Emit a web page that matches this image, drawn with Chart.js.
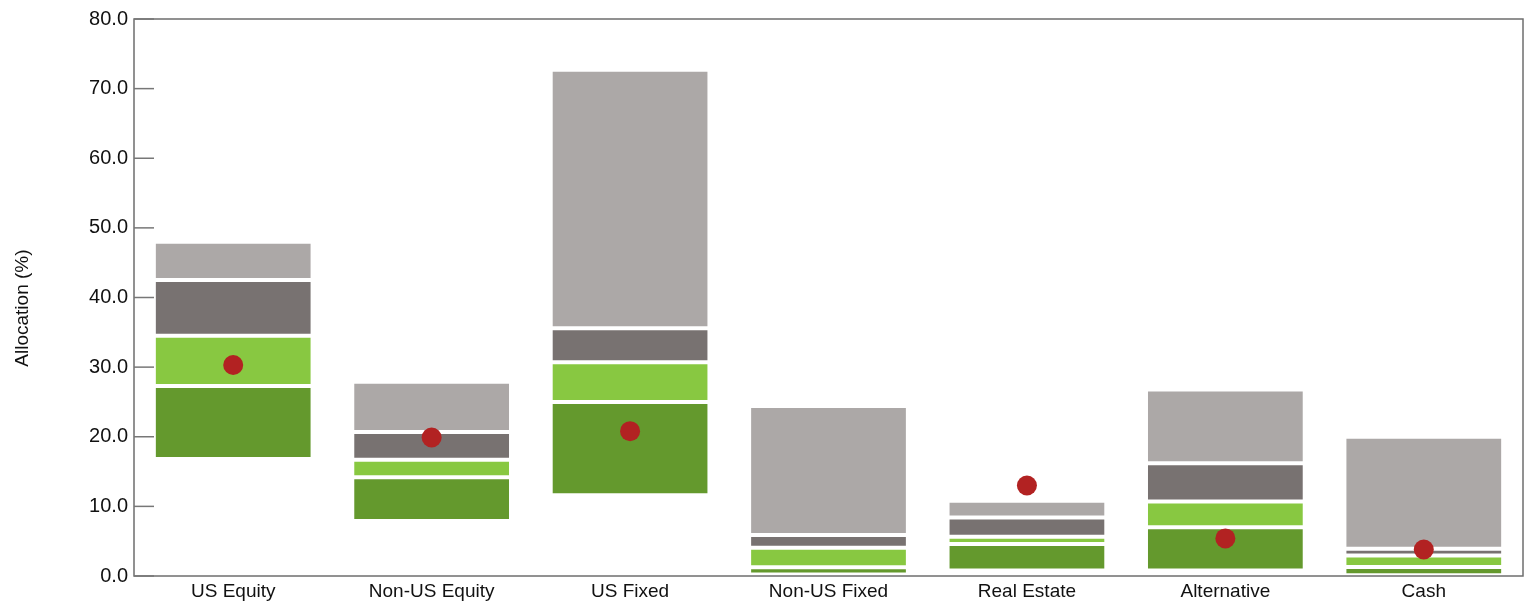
<!DOCTYPE html>
<html>
<head>
<meta charset="utf-8">
<script src="https://cdn.jsdelivr.net/npm/chart.js@4.4.1/dist/chart.umd.min.js"></script>
<style>
  html, body { margin: 0; padding: 0; background: #ffffff; overflow: hidden; }
  canvas { display: block; }
</style>
</head>
<body>
<canvas id="c" width="1528" height="605" style="width:1528px;height:605px"></canvas>
<script>
const categories = ['US Equity', 'Non-US Equity', 'US Fixed', 'Non-US Fixed', 'Real Estate', 'Alternative', 'Cash'];
const pct5   = [16.8, 7.9, 11.6, 0.2, 0.8, 0.8, 0.1];
const pct25  = [27.3, 14.2, 25.0, 1.25, 4.6, 7.0, 1.3];
const pct50  = [34.5, 16.7, 30.7, 4.05, 5.65, 10.7, 2.95];
const pct75  = [42.5, 20.7, 35.6, 5.9, 8.4, 16.2, 3.9];
const pct95  = [48.0, 27.9, 72.7, 24.4, 10.8, 26.8, 20.0];
const portfolio = [30.3, 19.9, 20.8, null, 13.0, 5.4, 3.8];
const yTicks = [0, 10, 20, 30, 40, 50, 60, 70, 80];

const FONT = "'Liberation Sans', Arial, sans-serif";

function range(lo, hi) { return lo.map((v, i) => [v, hi[i]]); }

const barCommon = {
  type: 'bar',
  grouped: false,
  borderColor: '#ffffff',
  borderWidth: 2,
  borderSkipped: false,
  categoryPercentage: 1.0,
  barPercentage: 0.8,
  order: 2
};

const framePlugin = {
  id: 'frame',
  afterDraw(chart) {
    const { ctx, chartArea: a, scales } = chart;
    ctx.save();
    ctx.strokeStyle = '#6e6e6e';
    ctx.lineWidth = 1.5;
    ctx.strokeRect(a.left, a.top, a.right - a.left, a.bottom - a.top);
    const y = scales.y;
    ctx.strokeStyle = '#777777';
    ctx.lineWidth = 1.5;
    y.ticks.forEach(t => {
      const py = y.getPixelForValue(t.value);
      ctx.beginPath();
      ctx.moveTo(a.left, py);
      ctx.lineTo(a.left + 20, py);
      ctx.stroke();
    });
    ctx.restore();
  }
};

new Chart(document.getElementById('c'), {
  type: 'bar',
  data: {
    labels: categories,
    datasets: [
      Object.assign({}, barCommon, { label: '5th-25th', data: range(pct5, pct25), backgroundColor: '#64992d' }),
      Object.assign({}, barCommon, { label: '25th-Median', data: range(pct25, pct50), backgroundColor: '#88c841' }),
      Object.assign({}, barCommon, { label: 'Median-75th', data: range(pct50, pct75), backgroundColor: '#787271' }),
      Object.assign({}, barCommon, { label: '75th-95th', data: range(pct75, pct95), backgroundColor: '#aca8a7' }),
      {
        type: 'line',
        label: 'Portfolio',
        data: portfolio,
        showLine: false,
        pointRadius: 10,
        pointHoverRadius: 10,
        pointBackgroundColor: '#b22222',
        pointBorderColor: '#b22222',
        pointBorderWidth: 0,
        order: 0
      }
    ]
  },
  options: {
    responsive: false,
    maintainAspectRatio: false,
    animation: false,
    devicePixelRatio: 1,
    layout: { autoPadding: false, padding: { left: 0, right: 5, top: 19, bottom: 0 } },
    plugins: {
      legend: { display: false },
      tooltip: { enabled: false }
    },
    scales: {
      x: {
        grid: { display: false, drawTicks: false },
        border: { display: false },
        ticks: {
          color: '#111111',
          padding: 4,
          font: { family: FONT, size: 19 },
          maxRotation: 0
        },
        afterFit(scale) { scale.height = 29; }
      },
      y: {
        min: 0,
        max: 80,
        afterBuildTicks(scale) { scale.ticks = yTicks.map(v => ({ value: v })); },
        grid: { display: false, drawTicks: false },
        border: { display: false },
        ticks: {
          color: '#111111',
          padding: 6,
          font: { family: FONT, size: 20 },
          callback: v => Number(v).toFixed(1)
        },
        title: {
          display: true,
          text: 'Allocation (%)    ',
          color: '#111111',
          font: { family: FONT, size: 19 },
          padding: { top: 11, bottom: 0 }
        },
        afterFit(scale) { scale.width = 134; }
      }
    }
  },
  plugins: [framePlugin]
});
</script>
</body>
</html>
